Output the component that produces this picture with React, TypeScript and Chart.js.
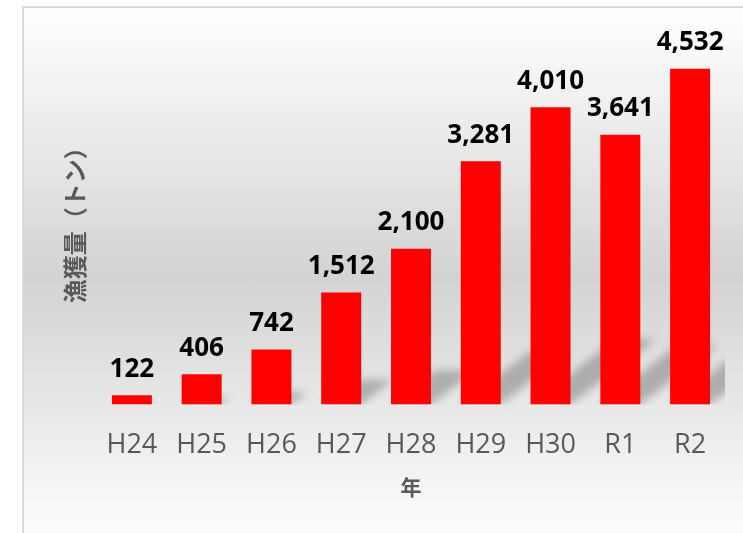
import React, { useEffect, useRef } from 'react';
import { Chart, registerables } from 'chart.js';

Chart.register(...registerables);

const categories = ['H24', 'H25', 'H26', 'H27', 'H28', 'H29', 'H30', 'R1', 'R2'];
const catchTons = [122, 406, 742, 1512, 2100, 3281, 4010, 3641, 4532];
const yTitle = '漁獲量（トン）';
const xTitle = '年';
const yMin = 0;
const yMax = 5000;

const shadowPlugin = {
  id: 'barShadow',
  beforeDatasetsDraw(chart: any) {
    const { ctx, chartArea } = chart;
    const meta = chart.getDatasetMeta(0);
    ctx.save();
    ctx.beginPath();
    ctx.rect(chartArea.left, chartArea.top, chartArea.right - chartArea.left, chartArea.bottom - chartArea.top);
    ctx.clip();
    ctx.filter = 'blur(4px)';
    ctx.fillStyle = 'rgba(0,0,0,0.24)';
    meta.data.forEach((el: any) => {
      const { x, y, base, width } = el.getProps(['x', 'y', 'base', 'width'], true);
      const L = x - width / 2;
      const R = x + width / 2;
      const h = base - y;
      const dy = 0.22 * h;
      const dx = 1.3 * dy;
      ctx.beginPath();
      ctx.moveTo(L, base);
      ctx.lineTo(R, base);
      ctx.lineTo(R + dx, base - dy);
      ctx.lineTo(L + dx, base - dy);
      ctx.closePath();
      ctx.fill();
    });
    ctx.restore();
  },
};

const labelPlugin = {
  id: 'barLabels',
  afterDatasetsDraw(chart: any) {
    const { ctx } = chart;
    const meta = chart.getDatasetMeta(0);
    const values = chart.data.datasets[0].data as number[];
    ctx.save();
    ctx.font = 'bold 26px "Open Sans"';
    ctx.fillStyle = '#000000';
    ctx.textAlign = 'center';
    ctx.textBaseline = 'alphabetic';
    meta.data.forEach((el: any, i: number) => {
      const { x, y } = el.getProps(['x', 'y'], true);
      ctx.fillText(values[i].toLocaleString('en-US'), x, y - 18.5);
    });
    ctx.restore();
  },
};

export default function App() {
  const canvasRef = useRef<HTMLCanvasElement | null>(null);

  useEffect(() => {
    if (!canvasRef.current) return;
    const chart = new Chart(canvasRef.current, {
      type: 'bar',
      data: {
        labels: categories,
        datasets: [
          {
            data: catchTons,
            backgroundColor: '#ff0000',
            borderWidth: 0,
            barPercentage: 0.573,
            categoryPercentage: 1,
          },
        ],
      },
      options: {
        responsive: false,
        animation: false,
        devicePixelRatio: 1,
        layout: { padding: { left: 53, right: 18, top: 34, bottom: 18 } },
        plugins: {
          legend: { display: false },
          tooltip: { enabled: false },
        },
        scales: {
          x: {
            grid: { display: false, drawTicks: false },
            border: { display: false },
            ticks: {
              color: '#595959',
              font: { family: '"Open Sans"', size: 27 },
              padding: 25,
              maxRotation: 0,
              autoSkip: false,
            },
            title: {
              display: true,
              text: xTitle,
              color: '#595959',
              font: { family: '"Noto Sans CJK JP"', size: 21, weight: 'bold' },
              padding: { top: -12, bottom: 15 },
            },
          },
          y: {
            min: yMin,
            max: yMax,
            grid: { display: false, drawTicks: false },
            border: { display: false },
            ticks: { display: false },
            title: {
              display: true,
              text: yTitle,
              color: '#595959',
              font: { family: '"Noto Sans CJK JP"', size: 24, weight: 'bold' },
              padding: { top: 7.6, bottom: 7.6 },
            },
          },
        },
      },
      plugins: [shadowPlugin, labelPlugin],
    } as any);
    return () => chart.destroy();
  }, []);

  return (
    <div
      style={{
        position: 'fixed',
        left: 0,
        top: 0,
        width: 743,
        height: 533,
        overflow: 'hidden',
        background: '#ffffff',
      }}
    >
      <div
        style={{
          position: 'absolute',
          left: 22,
          top: 6,
          width: 760,
          height: 540,
          border: '2px solid #d9d9d9',
          background: 'linear-gradient(to bottom, #ffffff 0%, #d3d3d3 50%, #ffffff 100%)',
        }}
      />
      <canvas
        ref={canvasRef}
        width={743}
        height={533}
        style={{ position: 'absolute', left: 0, top: 0, width: 743, height: 533 }}
      />
    </div>
  );
}
